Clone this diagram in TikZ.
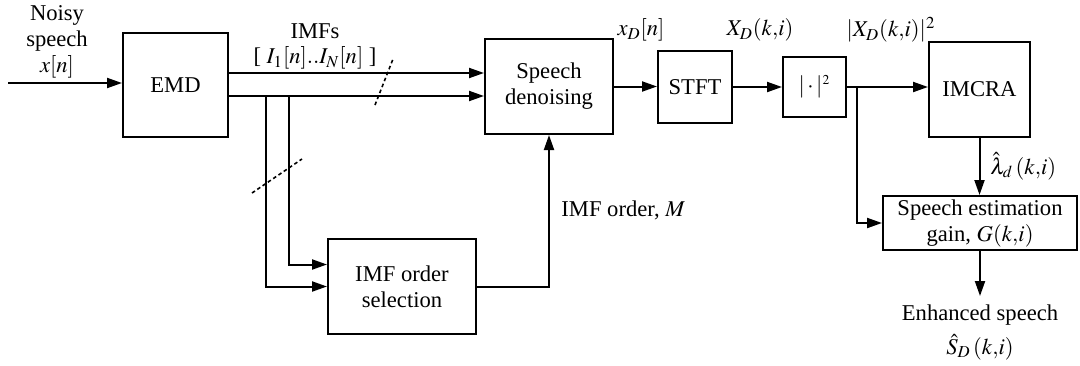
\documentclass[tikz,border=0pt]{standalone}
\usepackage{mathptmx}
\usepackage{fontspec}
\setmainfont{Liberation Serif}
\usetikzlibrary{arrows.meta,calc}

\tikzset{
  blk/.style={draw, line width=1pt, rectangle, inner sep=0pt, align=center},
  conn/.style={line width=1pt},
  arr/.style={conn, -{Triangle[length=7.5pt,width=5pt]}},
  slash/.style={line width=0.8pt, dash pattern=on 1.8pt off 1.4pt},
  lbl/.style={inner sep=0pt, align=center}
}

\begin{document}
\begin{tikzpicture}[x=0.5pt, y=-0.5pt, font=\fontsize{11.3}{13}\selectfont]
\useasboundingbox (0,0) rectangle (1080,365);

% processing blocks
\node[blk, minimum width=52.5pt, minimum height=52pt] (emd) at (175.5,85) {EMD};
\node[blk, minimum width=64pt, minimum height=47.5pt] (den) at (549,86.5) {Speech\\denoising};
\node[blk, minimum width=37pt, minimum height=36pt] (stft) at (695,87) {STFT};
\node[blk, minimum width=31.5pt, minimum height=30pt] (sq) at (814.5,87) {$|\,{\cdot}\,|^{\scriptscriptstyle 2}$};
\node[blk, minimum width=50.5pt, minimum height=47.5pt] (imcra) at (979.5,89) {IMCRA};
\node[blk, minimum width=97pt, minimum height=27pt] (gain) at (980,223) {Speech estimation\\gain, $G(k{,}i)$};
\node[blk, minimum width=74pt, minimum height=47.5pt] (sel) at (402,286.5) {IMF order\\selection};

% free ends
\coordinate (in) at (8,83);
\coordinate (out) at (980,296);

% input
\draw[arr] (in) -- (in -| emd.west);

% IMF bus to the denoiser
\coordinate (u0) at ($(emd.east)+(0,-12)$);
\coordinate (l0) at ($(emd.east)+(0,11)$);
\draw[arr] (u0) -- (u0 -| den.west);
\draw[arr] (l0) -- (l0 -| den.west);

% IMF bus to the order selection
\coordinate (b1) at (289,96);
\coordinate (b2) at (266,96);
\draw[arr] (b1) |- ($(sel.west)+(0,-22)$);
\draw[arr] (b2) |- (sel.west);

% order selection back to the denoiser
\draw[arr] (sel.east) -| (den.south);

% spectral chain
\draw[arr] (den.east) -- (den.east -| stft.west);
\draw[arr] (stft.east) -- (stft.east -| sq.west);
\draw[arr] (sq.east) -- (sq.east -| imcra.west);
\coordinate (br) at (857,87);
\draw[arr] (br) |- (gain.west);
\draw[arr] (imcra.south) -- (imcra.south |- gain.north);
\draw[arr] (gain.south) -- (out);

% bus markers
\draw[slash] (375,105) -- (393,59);
\draw[slash] (252,193) -- (302,159);

% signal labels
\node[lbl] (lnoisy) at (57,42) {Noisy\\speech\\$x[n]$};
\node[lbl] (limf) at (315,31) {IMFs};
\node[lbl] (lbus) at (315,58) {[ $I_1[n]..I_N[n]$ ]};
\node[lbl] (lxd) at (641,30) {$x_D[n]$};
\node[lbl] (lXd) at (760,30) {$X_D(k{,}i)$};
\node[lbl] (lpow) at (891,30) {$|X_D(k{,}i)|^2$};
\node[lbl, anchor=west] (lord) at (561,210) {IMF order, $M$};
\node[lbl, anchor=west] (llam) at (990,166) {$\hat{\lambda}_d\,(k{,}i)$};
\node[lbl] (lenh) at (980,315) {Enhanced speech};
\node[lbl] (lS) at (980,347) {$\hat{S}_D\,(k{,}i)$};
\end{tikzpicture}
\end{document}
